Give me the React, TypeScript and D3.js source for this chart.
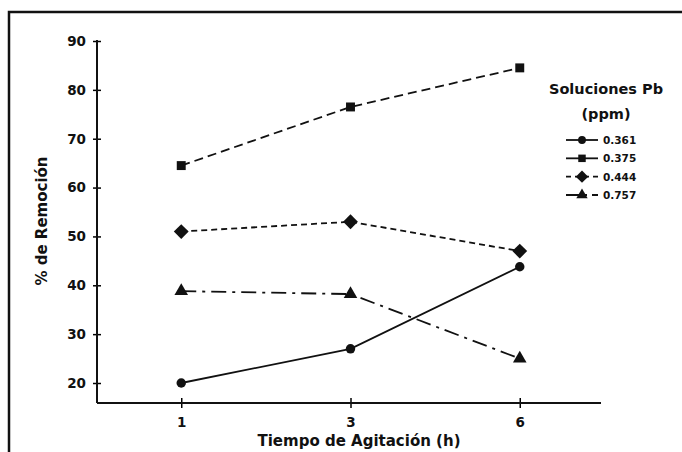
import React, { useEffect, useRef } from 'react';
import * as d3 from 'd3';

const horas = ['1', '3', '6'];
const yTicks = [20, 30, 40, 50, 60, 70, 80, 90];
const serieNames = ['0.361', '0.375', '0.444', '0.757'];
const s0361 = [20, 27, 43.8];
const s0375 = [64.5, 76.5, 84.5];
const s0444 = [51, 53, 47];
const s0757 = [38.8, 38.2, 25];

const W = 682;
const H = 452;
const FONT = '"DejaVu Sans", Verdana, sans-serif';

export default function App() {
    const ref = useRef<SVGSVGElement>(null);

    useEffect(() => {
        const svg = d3.select(ref.current);
        svg.selectAll('*').remove();

        const x = d3.scalePoint<string>().domain(horas).range([100, 601]).padding(0.48);
        const y = d3.scaleLinear().domain([20, 90]).range([383, 41]);

        // frame
        svg.append('path')
            .attr('d', `M9,${H} L9,12 L${W},12`)
            .attr('fill', 'none')
            .attr('stroke', '#111')
            .attr('stroke-width', 2.5);

        // y axis
        const yAx = svg.append('g').attr('transform', 'translate(97,0)')
            .call(d3.axisLeft(y).tickValues(yTicks).tickSize(4).tickPadding(7));
        yAx.select('.domain').remove();
        yAx.selectAll('.tick line').attr('x1', 4).attr('x2', -4).attr('stroke-width', 1.5);
        yAx.selectAll('.tick text')
            .attr('font-family', FONT).attr('font-weight', 'bold').attr('font-size', 13.5).attr('fill', '#111');
        svg.append('line').attr('x1', 97).attr('x2', 97).attr('y1', 40).attr('y2', 403)
            .attr('stroke', '#111').attr('stroke-width', 2);

        // x axis
        const xAx = svg.append('g').attr('transform', 'translate(0,403)')
            .call(d3.axisBottom(x).tickSize(5).tickPadding(9));
        xAx.select('.domain').remove();
        xAx.selectAll('.tick line').attr('y1', -5).attr('y2', 5).attr('stroke-width', 1.5);
        xAx.selectAll('.tick text')
            .attr('font-family', FONT).attr('font-weight', 'bold').attr('font-size', 13.5).attr('fill', '#111');
        svg.append('line').attr('x1', 97).attr('x2', 601).attr('y1', 403).attr('y2', 403)
            .attr('stroke', '#111').attr('stroke-width', 2);

        // titles
        svg.append('text').text('Tiempo de Agitación (h)')
            .attr('x', 359).attr('y', 446).attr('text-anchor', 'middle')
            .attr('font-family', FONT).attr('font-weight', 'bold').attr('font-size', 15).attr('fill', '#111');
        svg.append('text').text('% de Remoción')
            .attr('transform', 'translate(47,221) rotate(-90)').attr('text-anchor', 'middle')
            .attr('font-family', FONT).attr('font-weight', 'bold').attr('font-size', 15).attr('fill', '#111');

        const series = [
            { name: serieNames[0], vals: s0361, dash: null, sym: d3.symbolCircle, size: 70 },
            { name: serieNames[1], vals: s0375, dash: '9,5', sym: d3.symbolSquare, size: 80 },
            { name: serieNames[2], vals: s0444, dash: '6,4', sym: d3.symbolDiamond2, size: 140 },
            { name: serieNames[3], vals: s0757, dash: '15,6,3,6', sym: d3.symbolTriangle, size: 80 },
        ];

        const line = d3.line<number>().x((d, i) => x(horas[i]) as number).y(d => y(d));

        series.forEach(s => {
            svg.append('path').datum(s.vals)
                .attr('d', line)
                .attr('fill', 'none')
                .attr('stroke', '#111')
                .attr('stroke-width', 1.8)
                .attr('stroke-dasharray', s.dash);
            svg.append('g').selectAll('path').data(s.vals).join('path')
                .attr('transform', (d, i) => `translate(${x(horas[i])},${y(d)})`)
                .attr('d', d3.symbol().type(s.sym).size(s.size)())
                .attr('fill', '#111');
        });

        // legend
        const lg = svg.append('g');
        lg.append('text').text('Soluciones Pb').attr('x', 606).attr('y', 94).attr('text-anchor', 'middle')
            .attr('font-family', FONT).attr('font-weight', 'bold').attr('font-size', 14.5).attr('fill', '#111');
        lg.append('text').text('(ppm)').attr('x', 606).attr('y', 119).attr('text-anchor', 'middle')
            .attr('font-family', FONT).attr('font-weight', 'bold').attr('font-size', 14.5).attr('fill', '#111');
        const rowY = d3.scaleLinear().domain([0, 3]).range([140, 195]);
        series.forEach((s, i) => {
            const ry = rowY(i);
            lg.append('line').attr('x1', 566).attr('x2', 598).attr('y1', ry).attr('y2', ry)
                .attr('stroke', '#111').attr('stroke-width', 1.8)
                .attr('stroke-dasharray', i === 2 ? '5,4' : i === 3 ? '13,5,3,5' : null);
            lg.append('path').attr('transform', `translate(582,${ry})`)
                .attr('d', d3.symbol().type(s.sym).size(s.size * 0.7)())
                .attr('fill', '#111');
            lg.append('text').text(s.name).attr('x', 603).attr('y', ry + 4)
                .attr('font-family', FONT).attr('font-size', 10.5).attr('font-weight', 'bold').attr('fill', '#111');
        });
    }, []);

    return (
        <div style={{ position: 'absolute', left: 0, top: 0 }}>
            <svg ref={ref} width={W} height={H} style={{ display: 'block', background: '#fff' }} />
        </div>
    );
}
